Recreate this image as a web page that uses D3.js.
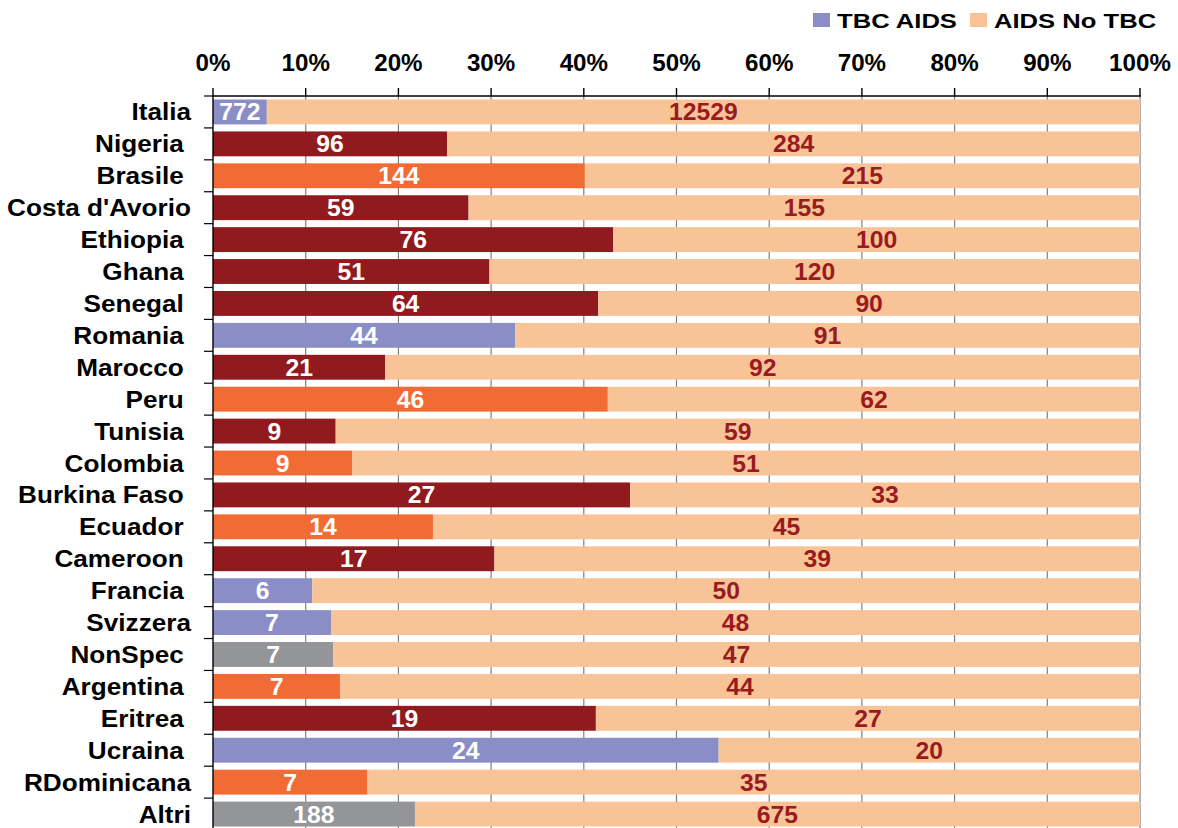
<!DOCTYPE html>
<html>
<head>
<meta charset="utf-8">
<script src="https://cdn.jsdelivr.net/npm/d3@7"></script>
<style>
  html, body { margin: 0; padding: 0; background: #ffffff; }
  svg { display: block; }
  text { font-family: Arial, "Liberation Sans", sans-serif; font-weight: bold; white-space: pre; }
</style>
</head>
<body>
<svg id="chart" width="1178" height="828"></svg>
<script>
// Country labels (some carry a trailing space, as typed in the source sheet)
const countries = ["Italia", "Nigeria ", "Brasile ", "Costa d'Avorio", "Ethiopia ", "Ghana ",
  "Senegal ", "Romania ", "Marocco ", "Peru ", "Tunisia ", "Colombia ", "Burkina Faso ",
  "Ecuador ", "Cameroon ", "Francia ", "Svizzera", "NonSpec ", "Argentina ", "Eritrea ",
  "Ucraina ", "RDominicana", "Altri"];

// Cases with TB among AIDS cases
const tbcAids = [772, 96, 144, 59, 76, 51, 64, 44, 21, 46, 9, 9, 27, 14, 17, 6, 7, 7, 7, 19, 24, 7, 188];

// AIDS cases without TB
const aidsNoTbc = [12529, 284, 215, 155, 100, 120, 90, 91, 92, 62, 59, 51, 33, 45, 39, 50, 48, 47, 44, 27, 20, 35, 675];

// Area of origin, which sets the colour of the TB segment
const regions = ["Europa", "Africa", "America Latina", "Africa", "Africa", "Africa",
  "Africa", "Europa", "Africa", "America Latina", "Africa", "America Latina", "Africa",
  "America Latina", "Africa", "Europa", "Europa", "Altro", "America Latina", "Africa",
  "Europa", "America Latina", "Altro"];

const seriesNames = ["TBC AIDS", "AIDS No TBC"];
const tickValues = [0, 0.1, 0.2, 0.3, 0.4, 0.5, 0.6, 0.7, 0.8, 0.9, 1.0];

const regionColor = d3.scaleOrdinal()
  .domain(["Europa", "Africa", "America Latina", "Altro"])
  .range(["#8b8ec6", "#901a1e", "#f26b35", "#939598"]);
const peach = "#f9c398";
const darkRedText = "#981b1f";

const rows = countries.map((c, i) => {
  const tot = tbcAids[i] + aidsNoTbc[i];
  return { country: c, tbc: tbcAids[i], noTbc: aidsNoTbc[i], share: tbcAids[i] / tot, region: regions[i] };
});

const svg = d3.select("#chart");
const plotLeft = 213, plotRight = 1140, plotTop = 96, plotBottom = 830, canvasH = 828;

const x = d3.scaleLinear().domain([0, 1]).range([plotLeft, plotRight]);
const y = d3.scaleBand().domain(countries).range([plotTop, plotBottom]).paddingInner(0.22).paddingOuter(0.11);

// helper: text stretched horizontally about its anchor point
function stretchedText(sel, sx) {
  return sel.attr("x", 0).attr("y", 0)
    .attr("transform", d => `translate(${d.tx},${d.ty}) scale(${sx},1)`);
}

// vertical gridlines
svg.append("g").selectAll("line")
  .data(tickValues.filter(v => v > 0))
  .join("line")
  .attr("x1", d => x(d)).attr("x2", d => x(d))
  .attr("y1", plotTop).attr("y2", canvasH)
  .attr("stroke", "#808080").attr("stroke-width", 1.2);

// stacked bars
const barG = svg.append("g");
barG.selectAll("rect.tbc")
  .data(rows).join("rect").attr("class", "tbc")
  .attr("x", x(0))
  .attr("y", d => y(d.country))
  .attr("width", d => x(d.share) - x(0))
  .attr("height", y.bandwidth())
  .attr("fill", d => regionColor(d.region));
barG.selectAll("rect.notbc")
  .data(rows).join("rect").attr("class", "notbc")
  .attr("x", d => x(d.share))
  .attr("y", d => y(d.country))
  .attr("width", d => x(1) - x(d.share))
  .attr("height", y.bandwidth())
  .attr("fill", peach);

// value labels
const labG = svg.append("g").style("font-size", "24px");
labG.selectAll("text.v1")
  .data(rows.map(d => ({ ...d, tx: (x(0) + x(d.share)) / 2, ty: y(d.country) + y.bandwidth() / 2 + 8.5 })))
  .join("text").attr("class", "v1")
  .attr("text-anchor", "middle").attr("fill", "#ffffff")
  .call(stretchedText, 1.03)
  .text(d => d.tbc);
labG.selectAll("text.v2")
  .data(rows.map(d => ({ ...d, tx: (x(d.share) + x(1)) / 2, ty: y(d.country) + y.bandwidth() / 2 + 8.5 })))
  .join("text").attr("class", "v2")
  .attr("text-anchor", "middle").attr("fill", darkRedText)
  .call(stretchedText, 1.03)
  .text(d => d.noTbc);

// top axis
const xAxisG = svg.append("g");
xAxisG.append("line")
  .attr("x1", plotLeft).attr("x2", plotRight + 1).attr("y1", plotTop).attr("y2", plotTop)
  .attr("stroke", "#000").attr("stroke-width", 1.6);
xAxisG.selectAll("line.tick")
  .data(tickValues).join("line").attr("class", "tick")
  .attr("x1", d => x(d)).attr("x2", d => x(d))
  .attr("y1", plotTop - 8).attr("y2", plotTop)
  .attr("stroke", "#000").attr("stroke-width", 1.4);
xAxisG.selectAll("text")
  .data(tickValues.map(v => ({ v, tx: x(v), ty: 71 })))
  .join("text")
  .attr("text-anchor", "middle").attr("fill", "#000")
  .style("font-size", "23px")
  .call(stretchedText, 1.05)
  .text(d => d3.format(".0%")(d.v));

// left axis
const yAxisG = svg.append("g");
yAxisG.append("line")
  .attr("x1", plotLeft).attr("x2", plotLeft).attr("y1", plotTop).attr("y2", canvasH)
  .attr("stroke", "#000").attr("stroke-width", 1.4);
const step = y.step();
yAxisG.selectAll("line.tick")
  .data(d3.range(countries.length + 1))
  .join("line").attr("class", "tick")
  .attr("x1", plotLeft - 9).attr("x2", plotLeft)
  .attr("y1", i => plotTop + i * step).attr("y2", i => plotTop + i * step)
  .attr("stroke", "#000").attr("stroke-width", 1.2);
yAxisG.selectAll("text")
  .data(countries.map(c => ({ c, tx: 191, ty: y(c) + y.bandwidth() / 2 + 8.5 })))
  .join("text")
  .attr("text-anchor", "end").attr("fill", "#000")
  .style("font-size", "24px")
  .call(stretchedText, 1.09)
  .text(d => d.c);

// legend
const legendItems = [
  { name: seriesNames[0], color: regionColor("Europa"), sx: 813 },
  { name: seriesNames[1], color: peach, sx: 970 }
];
const legG = svg.append("g");
legG.selectAll("rect")
  .data(legendItems).join("rect")
  .attr("x", d => d.sx).attr("y", 13).attr("width", 17).attr("height", 14)
  .attr("fill", d => d.color);
legG.selectAll("text")
  .data(legendItems.map(d => ({ ...d, tx: d.sx + 24, ty: 27.5 })))
  .join("text")
  .attr("fill", "#000")
  .style("font-size", "21px")
  .call(stretchedText, 1.22)
  .text(d => d.name);
</script>
</body>
</html>
